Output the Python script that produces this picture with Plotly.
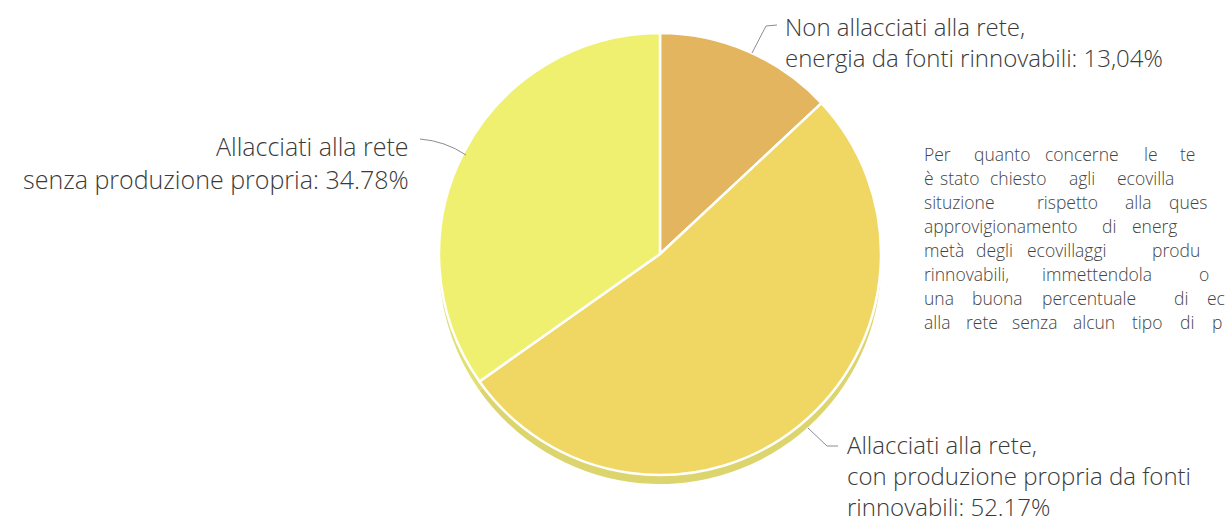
import plotly.graph_objects as go

# Energy supply of the ecovillages (share of respondents, %)
categorie = [
    "Non allacciati alla rete, energia da fonti rinnovabili",
    "Allacciati alla rete, con produzione propria da fonti rinnovabili",
    "Allacciati alla rete senza produzione propria",
]
percentuali = [13.04, 52.17, 34.78]
colori = ["#e3b55e", "#f0d764", "#eff06f"]
colori_ombra = ["#d9c46a", "#dcd46c", "#e0df70"]

W, H = 1227, 523
CX, CY, R = 660, 254, 221      # pie centre and radius in pixels
OMBRA = 9                       # shadow offset downwards

def dominio(cx, cy, r):
    return dict(x=[(cx - r) / W, (cx + r) / W],
                y=[(H - cy - r) / H, (H - cy + r) / H])

fig = go.Figure()

# shadow disc underneath the pie
fig.add_trace(go.Pie(
    labels=categorie, values=percentuali, sort=False, direction="clockwise",
    marker=dict(colors=colori_ombra, line=dict(width=0)),
    textinfo="none", hoverinfo="skip", showlegend=False,
    domain=dominio(CX, CY + OMBRA, R),
))

fig.add_trace(go.Pie(
    labels=categorie, values=percentuali, sort=False, direction="clockwise",
    marker=dict(colors=colori, line=dict(color="white", width=2.5)),
    textinfo="none", showlegend=False,
    domain=dominio(CX, CY, R),
))

TXT = "#3a3a3a"
FONT = "Open Sans"
PESO = 300

def fmt(v, sep="."):
    return f"{v:.2f}".replace(".", sep) + "%"

etichette = [
    # (x, y, text, anchor, size)
    (783, 42, "Non allacciati alla rete,<br>energia da fonti rinnovabili: "
     + fmt(percentuali[0], ","), "left", 24),
    (411, 162, "Allacciati alla rete<br>senza produzione propria: "
     + fmt(percentuali[2]), "right", 25),
    (845, 475, "Allacciati alla rete,<br>con produzione propria da fonti<br>rinnovabili: "
     + fmt(percentuali[1]), "left", 24),
]

annotazioni = []
for x, y, t, anc, sz in etichette:
    annotazioni.append(dict(x=x, y=y, xref="x", yref="y", text=t, showarrow=False,
                            xanchor=anc, yanchor="middle", align=anc,
                            font=dict(family=FONT, size=sz, color=TXT, weight=PESO)))

# justified paragraph on the right: each word starts at its own x on the line
paragrafo = [
    [(922, "Per"), (972, "quanto"), (1043, "concerne"), (1142, "le"), (1178, "te")],
    [(922, "è"), (938, "stato"), (988, "chiesto"), (1067, "agli"), (1115, "ecovilla")],
    [(922, "situzione"), (1035, "rispetto"), (1123, "alla"), (1167, "ques")],
    [(922, "approvigionamento"), (1100, "di"), (1130, "energ")],
    [(922, "metà"), (974, "degli"), (1025, "ecovillaggi"), (1150, "produ")],
    [(922, "rinnovabili,"), (1040, "immettendola"), (1197, "o")],
    [(922, "una"), (970, "buona"), (1040, "percentuale"), (1172, "di"), (1205, "ec")],
    [(922, "alla"), (964, "rete"), (1010, "senza"), (1071, "alcun"), (1130, "tipo"),
     (1178, "di"), (1210, "p")],
]
PAR = dict(family=FONT, size=17.5, color="#444444", weight=PESO)
Y0, PASSO = 154, 24
for i, parole in enumerate(paragrafo):
    for x, w in parole:
        annotazioni.append(dict(x=x, y=Y0 + i * PASSO, xref="x", yref="y", text=w,
                                showarrow=False, xanchor="left", yanchor="middle",
                                font=PAR))

# leader lines
LINEA = dict(color="#8c8c96", width=1)
forme = [
    dict(type="path", xref="x", yref="y", path="M 752 53 L 766 26 L 777 25", line=LINEA),
    dict(type="path", xref="x", yref="y", path="M 420 139 Q 445 141 466 155", line=LINEA),
    dict(type="path", xref="x", yref="y", path="M 808 428 L 827 446 L 838 446", line=LINEA),
]

fig.update_layout(
    width=W, height=H,
    margin=dict(l=0, r=0, t=0, b=0),
    paper_bgcolor="white", plot_bgcolor="rgba(0,0,0,0)",
    xaxis=dict(range=[0, W], visible=False, domain=[0, 1], fixedrange=True),
    yaxis=dict(range=[H, 0], visible=False, domain=[0, 1], fixedrange=True),
    annotations=annotazioni,
    shapes=forme,
)

fig.write_html("out.html")
